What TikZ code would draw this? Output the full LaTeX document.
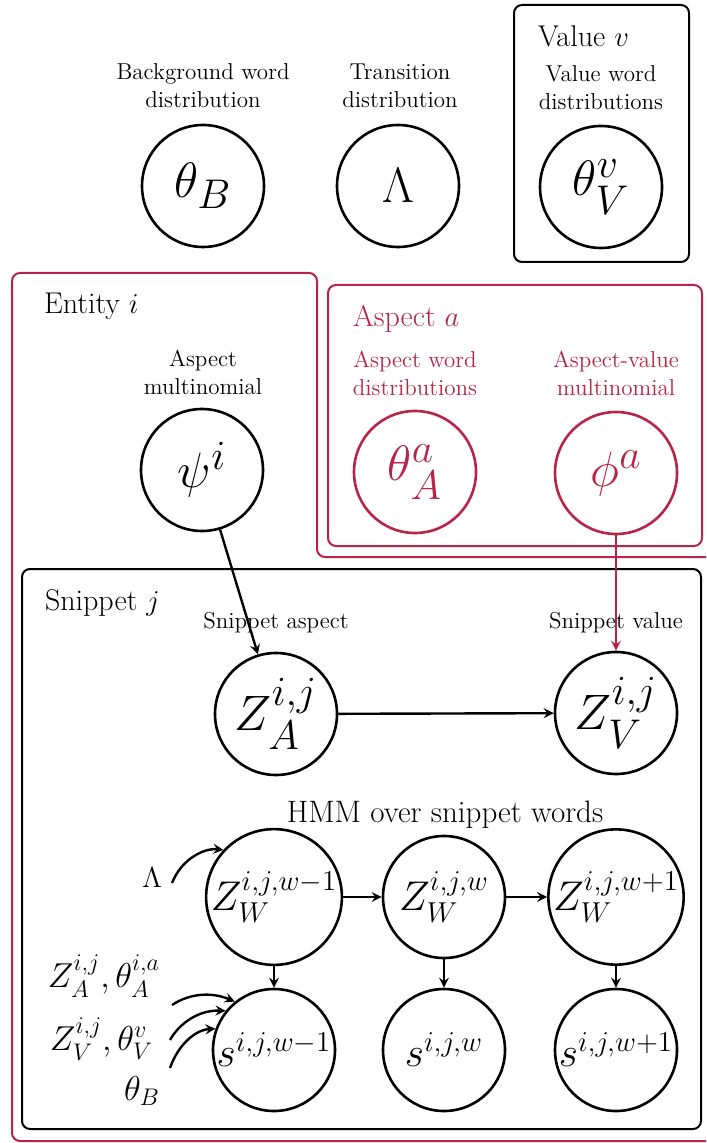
\documentclass[tikz,border=0pt]{standalone}
\usepackage{amsmath}

\begin{document}
\begin{tikzpicture}[x=0.5pt,y=-0.5pt,
  var/.style={circle,draw=drawColor,text=drawColor,line width=1.3pt,minimum size=61pt,inner sep=0pt,font=\Huge},
  hmmvar/.style={var,font=\huge},
  plate/.style={draw=drawColor,line width=1pt,rounded corners=4pt},
  lbl/.style={text=drawColor,anchor=base,align=center,inner sep=0pt,outer sep=0pt,font=\fontsize{11.5}{14}\selectfont},
  ttl/.style={text=drawColor,anchor=base west,inner sep=0pt,outer sep=0pt,font=\fontsize{15}{18}\selectfont},
  inp/.style={text=drawColor,anchor=base east,inner sep=0pt,outer sep=0pt,font=\LARGE},
  edge/.style={draw=drawColor,line width=1.2pt,-stealth}]
\definecolor{fillColor}{RGB}{255,255,255}
\path[use as bounding box,fill=fillColor] (0,0) rectangle (706,1143);
\begin{scope}
\path[clip] (0,0) rectangle (706,1143);
\definecolor{drawColor}{RGB}{0,0,0}

% global parameters
\node[lbl] (bglbl) at (203,108) {Background word\\distribution};
\node[lbl] (trlbl) at (400,108) {Transition\\distribution};
\node[var] (thB) at (203,186) {$\theta_B$};
\node[var] (lam) at (398,186) {$\Lambda$};

\path[plate] (514,5) rectangle (689,262);
\node[ttl] (valttl) at (538,47) {Value $v$};
\node[lbl] (vwlbl) at (601,110) {Value word\\distributions};
\node[var] (thV) at (601,187) {$\theta_V^v$};
\end{scope}

\begin{scope}
\path[clip] (0,0) rectangle (706,1143);
\definecolor{drawColor}{RGB}{184,36,72}

% entity and aspect plates
\path[plate] (720,1141) -- (12,1141) -- (12,273) -- (317,273) -- (317,557) -- (720,557);
\path[plate] (328,285) rectangle (702,546);
\node[ttl] (aspttl) at (353,327) {Aspect $a$};
\node[lbl] (awlbl) at (415,396) {Aspect word\\distributions};
\node[lbl] (avlbl) at (616,396) {Aspect-value\\multinomial};
\node[var] (thA) at (415,472) {$\theta_A^a$};
\node[var] (phi) at (616,473) {$\phi^a$};
\end{scope}

\begin{scope}
\path[clip] (0,0) rectangle (706,1143);
\definecolor{drawColor}{RGB}{0,0,0}

\node[ttl] (entttl) at (44,314) {Entity $i$};
\node[lbl] (amlbl) at (203,395) {Aspect\\multinomial};
\node[var] (psi) at (202,470) {$\psi^i$};

% snippet plate
\path[plate] (22,569) rectangle (701,1129);
\node[ttl] (snpttl) at (45,610) {Snippet $j$};
\node[lbl] (salbl) at (276,628) {Snippet aspect};
\node[lbl] (svlbl) at (616,628) {Snippet value};
\node[var] (zA) at (276,714) {$Z_A^{i,j}$};
\node[var] (zV) at (616,713) {$Z_V^{i,j}$};

% HMM
\node[text=drawColor,anchor=base,inner sep=0pt,outer sep=0pt,font=\fontsize{15.5}{18}\selectfont] (hmmttl) at (445,822) {HMM over snippet words};
\node[hmmvar] (zW1) at (274,897) {$Z_W^{i,j,w-1}$};
\node[hmmvar] (zW2) at (444,897) {$Z_W^{i,j,w}$};
\node[hmmvar] (zW3) at (616,897) {$Z_W^{i,j,w+1}$};
\node[hmmvar] (s1) at (274,1050) {$s^{i,j,w-1}$};
\node[hmmvar] (s2) at (444,1050) {$s^{i,j,w}$};
\node[hmmvar] (s3) at (616,1050) {$s^{i,j,w+1}$};

\node[inp,font=\Large] (lamin) at (162,887) {$\Lambda$};
\node[inp] (zain) at (160,987) {$Z_A^{i,j},\theta_A^{i,a}$};
\node[inp] (zvin) at (153,1050) {$Z_V^{i,j},\theta_V^v$};
\node[inp] (thbin) at (160,1100) {$\theta_B$};
\coordinate (lamout) at (172,883);
\coordinate (zaout) at (172,1005);
\coordinate (zvout) at (170,1040);
\coordinate (thbout) at (170,1068);

\draw[edge] (psi) -- (zA);
\draw[edge] (zA) -- (zV);
\draw[edge] (zW1) -- (zW2);
\draw[edge] (zW2) -- (zW3);
\foreach \k in {1,2,3}
  \draw[edge] (zW\k) -- (s\k);

\draw[edge] (lamout) .. controls (182,858) and (205,848) .. (zW1.137);
\draw[edge] (zaout) .. controls (190,993) and (212,992) .. (s1.129);
\draw[edge] (zvout) .. controls (180,1022) and (200,1010) .. (s1.141);
\draw[edge] (thbout) .. controls (178,1045) and (195,1030) .. (s1.160);
\end{scope}

\begin{scope}
\definecolor{drawColor}{RGB}{184,36,72}
\draw[edge] (phi) -- (zV);
\end{scope}
\end{tikzpicture}
\end{document}
